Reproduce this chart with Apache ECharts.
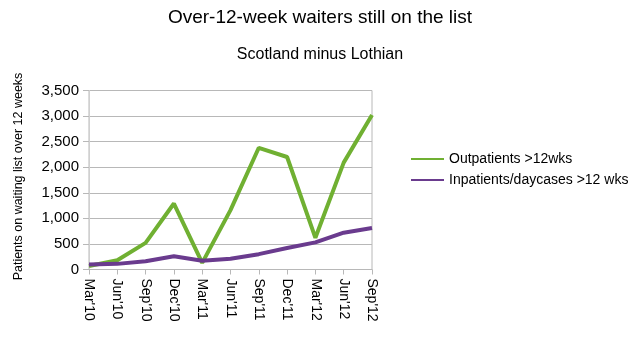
<!DOCTYPE html>
<html>
<head>
<meta charset="utf-8">
<script src="https://cdn.jsdelivr.net/npm/echarts@6/dist/echarts.min.js"></script>
<style>
html,body{margin:0;padding:0;background:#fff;}
#c{width:640px;height:342px;}
</style>
</head>
<body>
<div id="c"></div>
<script>
var categories = ["Mar'10","Jun'10","Sep'10","Dec'10","Mar'11","Jun'11","Sep'11","Dec'11","Mar'12","Jun'12","Sep'12"];
var outpatients = [70, 180, 520, 1290, 130, 1160, 2380, 2200, 620, 2090, 3020];
var inpatients = [100, 110, 160, 260, 170, 210, 300, 420, 530, 720, 810];
var seriesNames = ["Outpatients >12wks", "Inpatients/daycases >12 wks"];

var chart = echarts.init(document.getElementById('c'));
var font = "'Liberation Sans', Arial, sans-serif";
chart.setOption({
  animation: false,
  backgroundColor: '#ffffff',
  title: [
    {text: 'Over-12-week waiters still on the list', left: 'center', top: 3,
     textStyle: {fontFamily: font, fontSize: 19, fontWeight: 'normal', color: '#000'}},
    {text: 'Scotland minus Lothian', left: 'center', top: 42,
     textStyle: {fontFamily: font, fontSize: 16, fontWeight: 'normal', color: '#000'}}
  ],
  legend: {
    orient: 'vertical', left: 406, top: 147, itemWidth: 33, itemHeight: 2, itemGap: 7,
    icon: 'rect',
    textStyle: {fontFamily: font, fontSize: 14, color: '#000'},
    data: seriesNames
  },
  grid: {left: 89, right: 268, top: 90.5, bottom: 72.5, show: true, borderColor: '#b8b8b8', borderWidth: 1},
  xAxis: {
    type: 'category', data: categories, boundaryGap: false,
    axisLine: {lineStyle: {color: '#b8b8b8'}},
    axisTick: {show: true, length: 5, lineStyle: {color: '#b8b8b8'}},
    axisLabel: {rotate: -90, margin: 9, fontFamily: font, fontSize: 14, color: '#000', interval: 0}
  },
  yAxis: {
    type: 'value', min: 0, max: 3500, interval: 500,
    name: 'Patients on waiting list over 12 weeks', nameLocation: 'middle', nameGap: 64,
    nameTextStyle: {fontFamily: font, fontSize: 12.5, color: '#000', padding: [0, 0, 0, 7]},
    axisLine: {show: true, lineStyle: {color: '#d0d0d0'}},
    axisTick: {show: true, length: 6, lineStyle: {color: '#b8b8b8'}},
    splitLine: {lineStyle: {color: '#b8b8b8'}},
    axisLabel: {fontFamily: font, fontSize: 15, color: '#000', margin: 10,
      formatter: function(v){ return v.toLocaleString('en-US'); }}
  },
  series: [
    {name: seriesNames[0], type: 'line', data: outpatients, symbol: 'none',
     lineStyle: {width: 4, color: '#70b032'}, itemStyle: {color: '#70b032'}},
    {name: seriesNames[1], type: 'line', data: inpatients, symbol: 'none',
     lineStyle: {width: 4, color: '#6a3b8e'}, itemStyle: {color: '#6a3b8e'}}
  ]
});
</script>
</body>
</html>
